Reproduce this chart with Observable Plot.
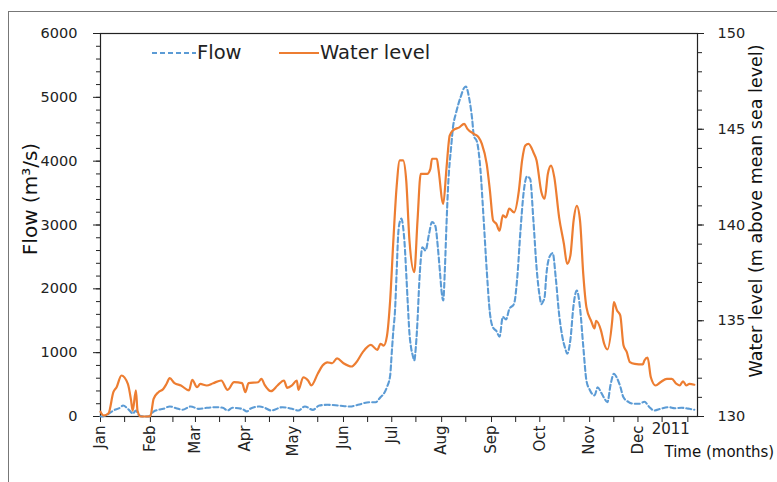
<!DOCTYPE html>
<html>
<head>
<meta charset="utf-8">
<script src="https://cdn.jsdelivr.net/npm/d3@7"></script>
<script src="https://cdn.jsdelivr.net/npm/@observablehq/plot@0.6"></script>
<style>
  body { margin: 0; background: #fff; font-family: "DejaVu Sans", sans-serif; }
  #chart { position: relative; width: 777px; height: 482px; overflow: hidden; }
  #outline { position: absolute; left: 8px; top: 11px; width: 820px; height: 520px;
             border: 1.5px solid #777; box-sizing: border-box; pointer-events: none; }
  .key { position: absolute; top: 41px; display: flex; align-items: center;
         font-size: 19.5px; color: #222; white-space: nowrap; }
  .key svg { display: block; margin-right: 1px; }
</style>
</head>
<body>
<div id="chart">
  <div id="outline"></div>
</div>
<script>
// Daily river flow (m³/s) and water level (m above MSL) through 2010
const flowDates = [
  "2010-01-01","2010-01-03","2010-01-06","2010-01-09","2010-01-13","2010-01-15","2010-01-18","2010-01-20",
  "2010-01-21","2010-01-23","2010-01-25","2010-01-28","2010-01-31","2010-02-03","2010-02-06","2010-02-09",
  "2010-02-13","2010-02-17","2010-02-21","2010-02-26","2010-03-03","2010-03-08","2010-03-14","2010-03-18",
  "2010-03-21","2010-03-24","2010-03-30","2010-04-02","2010-04-04","2010-04-10","2010-04-13","2010-04-17",
  "2010-04-24","2010-04-30","2010-05-04","2010-05-08","2010-05-13","2010-05-17","2010-05-22","2010-05-29",
  "2010-06-05","2010-06-10","2010-06-17","2010-06-21","2010-06-24","2010-06-26","2010-06-28","2010-06-30",
  "2010-07-01","2010-07-02","2010-07-03","2010-07-04","2010-07-05","2010-07-06","2010-07-07","2010-07-08",
  "2010-07-09","2010-07-10","2010-07-11","2010-07-12","2010-07-13","2010-07-14","2010-07-15","2010-07-16",
  "2010-07-17","2010-07-18","2010-07-19","2010-07-20","2010-07-22","2010-07-24","2010-07-26","2010-07-28",
  "2010-07-30","2010-07-31","2010-08-01","2010-08-02","2010-08-03","2010-08-04","2010-08-05","2010-08-07",
  "2010-08-08","2010-08-10","2010-08-13","2010-08-15","2010-08-16","2010-08-18","2010-08-20","2010-08-21",
  "2010-08-23","2010-08-25","2010-08-27","2010-08-29","2010-08-31","2010-09-02","2010-09-04","2010-09-06",
  "2010-09-08","2010-09-10","2010-09-12","2010-09-15","2010-09-17","2010-09-19","2010-09-21","2010-09-23",
  "2010-09-25","2010-09-27","2010-09-29","2010-10-01","2010-10-02","2010-10-03","2010-10-04","2010-10-05",
  "2010-10-07","2010-10-09","2010-10-11","2010-10-13","2010-10-15","2010-10-17","2010-10-18","2010-10-20",
  "2010-10-22","2010-10-24","2010-10-26","2010-10-28","2010-10-30","2010-11-01","2010-11-04","2010-11-06",
  "2010-11-08","2010-11-10","2010-11-12","2010-11-14","2010-11-16","2010-11-18","2010-11-20","2010-11-22",
  "2010-11-25","2010-11-28","2010-12-02","2010-12-05","2010-12-08","2010-12-11","2010-12-15","2010-12-20",
  "2010-12-24","2010-12-28","2011-01-02","2011-01-05"
];
const flowValues = [
  0, 5, 42, 94, 136, 172, 120, 68,
  42, 94, 16, 0, 0, 78, 105, 120,
  157, 130, 105, 157, 120, 136, 146, 136,
  94, 136, 120, 78, 120, 157, 136, 94,
  146, 120, 94, 157, 104, 172, 183, 172,
  157, 183, 224, 224, 302, 355, 460, 640,
  1000, 1350, 1650, 2240, 2850, 3050, 3100, 2980,
  2700, 2240, 1750, 1300, 1080, 960, 877, 1100,
  1500, 2050, 2450, 2650, 2600, 2836, 3045, 2990,
  2550, 2250, 1950, 1818, 2300, 3000, 3600, 4250,
  4520, 4760, 5020, 5150, 5170, 5000, 4650, 4400,
  4300, 3900, 3130, 2300, 1620, 1390, 1340, 1250,
  1560, 1520, 1680, 1766, 2180, 2915, 3520, 3760,
  3720, 3080, 2330, 1870, 1760, 1800, 1870, 2200,
  2500, 2560, 2150, 1600, 1250, 1050, 982, 1200,
  1750, 1974, 1700, 1100, 560, 420, 330, 459,
  380, 290, 224, 500, 669, 600, 470, 300,
  230, 200, 200, 230, 150, 94, 120, 146,
  130, 136, 120, 105
];

const levelDates = [
  "2010-01-01","2010-01-03","2010-01-06","2010-01-09","2010-01-11","2010-01-14","2010-01-18","2010-01-20",
  "2010-01-21","2010-01-23","2010-01-24","2010-01-26","2010-01-30","2010-02-01","2010-02-03","2010-02-06",
  "2010-02-09","2010-02-11","2010-02-13","2010-02-16","2010-02-20","2010-02-25","2010-02-27","2010-03-02",
  "2010-03-04","2010-03-08","2010-03-12","2010-03-17","2010-03-21","2010-03-25","2010-03-30","2010-04-01",
  "2010-04-03","2010-04-09","2010-04-11","2010-04-13","2010-04-17","2010-04-21","2010-04-25","2010-04-27",
  "2010-04-30","2010-05-03","2010-05-04","2010-05-07","2010-05-10","2010-05-12","2010-05-16","2010-05-19",
  "2010-05-22","2010-05-25","2010-05-28","2010-06-01","2010-06-06","2010-06-09","2010-06-13","2010-06-18",
  "2010-06-22","2010-06-24","2010-06-26","2010-06-28","2010-06-30","2010-07-02","2010-07-04","2010-07-06",
  "2010-07-08","2010-07-10","2010-07-12","2010-07-15","2010-07-17","2010-07-19","2010-07-23","2010-07-25",
  "2010-07-26","2010-07-29","2010-07-30","2010-08-02","2010-08-04","2010-08-06","2010-08-08","2010-08-12",
  "2010-08-15","2010-08-17","2010-08-21","2010-08-24","2010-08-26","2010-08-29","2010-08-31","2010-09-02",
  "2010-09-04","2010-09-06","2010-09-08","2010-09-10","2010-09-12","2010-09-15","2010-09-18","2010-09-20",
  "2010-09-22","2010-09-24","2010-09-27","2010-09-29","2010-10-02","2010-10-04","2010-10-06","2010-10-08",
  "2010-10-10","2010-10-13","2010-10-16","2010-10-18","2010-10-20","2010-10-22","2010-10-24","2010-10-26",
  "2010-10-28","2010-10-30","2010-11-02","2010-11-04","2010-11-05","2010-11-08","2010-11-10","2010-11-12",
  "2010-11-15","2010-11-16","2010-11-18","2010-11-20","2010-11-22","2010-11-24","2010-11-26","2010-11-29",
  "2010-12-04","2010-12-05","2010-12-07","2010-12-09","2010-12-12","2010-12-15","2010-12-19","2010-12-22",
  "2010-12-25","2010-12-27","2010-12-29","2010-12-31","2011-01-02","2011-01-05"
];
const levelValues = [
  130.25, 130.05, 130.17, 131.27, 131.53, 132.14, 131.70, 130.84,
  130.30, 131.36, 130.30, 130.00, 130.00, 130.02, 130.92, 131.27,
  131.44, 131.70, 132.00, 131.74, 131.62, 131.36, 131.92, 131.53,
  131.70, 131.62, 131.74, 131.88, 131.39, 131.79, 131.74, 131.27,
  131.74, 131.79, 131.97, 131.65, 131.32, 131.62, 131.88, 131.50,
  131.62, 131.88, 131.39, 132.05, 131.88, 131.62, 132.23, 132.66,
  132.83, 132.78, 133.04, 132.78, 132.61, 132.83, 133.36, 133.74,
  133.48, 133.80, 133.70, 134.20, 136.06, 139.20, 141.97, 143.37,
  143.37, 142.32, 139.19, 137.54, 140.23, 142.67, 142.67, 142.93,
  143.46, 143.46, 142.93, 141.10, 142.95, 144.67, 144.94, 145.10,
  145.28, 145.02, 144.76, 144.58, 144.24, 143.19, 141.80, 140.23,
  140.06, 139.70, 140.50, 140.40, 140.85, 140.66, 141.80, 143.37,
  144.15, 144.24, 143.80, 143.37, 141.71, 141.37, 142.67, 143.10,
  142.50, 140.40, 139.00, 137.97, 138.40, 140.23, 141.00, 140.23,
  137.45, 135.70, 134.97, 134.60, 135.00, 134.50, 133.80, 133.50,
  135.00, 135.97, 135.54, 135.28, 133.72, 133.37, 132.84, 132.75,
  132.72, 132.92, 133.07, 132.05, 131.62, 131.79, 131.97, 131.97,
  131.70, 131.62, 131.84, 131.62, 131.70, 131.66
];

// Axis ticks
const monthTicks = ["2010-01-01","2010-02-01","2010-03-01","2010-04-01","2010-05-01","2010-06-01",
                    "2010-07-01","2010-08-01","2010-09-01","2010-10-01","2010-11-01","2010-12-01"];
const midMonthTicks = ["2010-01-16","2010-02-15","2010-03-16","2010-04-16","2010-05-16","2010-06-16",
                       "2010-07-16","2010-08-16","2010-09-16","2010-10-16","2010-11-16","2010-12-16"];
const yearTick = { date: "2011-01-01", label: "2011" };
const flowTicks = [0, 1000, 2000, 3000, 4000, 5000, 6000];
const levelTicks = [130, 135, 140, 145, 150];
const timeDomain = ["2010-01-01", "2011-01-07"];

// Water level is drawn against the flow scale: 130–150 m spans 0–6000 m³/s
const flowMax = 6000, levelMin = 130, levelMax = 150;
const levelToFlow = v => (v - levelMin) * flowMax / (levelMax - levelMin);

const parse = s => new Date(s + "T00:00:00Z");
const flow = flowDates.map((d, i) => ({ date: parse(d), value: flowValues[i] }));
const level = levelDates.map((d, i) => ({ date: parse(d), value: levelValues[i] }));

const orange = "#ED7D31", blue = "#5B9BD5";

const chart = Plot.plot({
  width: 777,
  height: 482,
  marginLeft: 100,
  marginRight: 80,
  marginTop: 33,
  marginBottom: 66,
  style: { fontFamily: "DejaVu Sans, sans-serif", fontSize: "14.5px", color: "#222", background: "#fff" },
  x: { type: "utc", domain: timeDomain.map(parse) },
  y: { domain: [0, flowMax] },
  marks: [
    // x axis: month labels, mid-month minor ticks, year label
    Plot.axisX(monthTicks.map(parse), {
      tickFormat: d3.utcFormat("%b"), tickRotate: -90, tickSize: 6, tickPadding: 3, label: null, fontSize: 15
    }),
    Plot.axisX(midMonthTicks.map(parse), { tickFormat: () => "", tickSize: 6, label: null }),
    Plot.axisX([parse(yearTick.date)], { tickFormat: () => "", tickSize: 6, label: null }),
    Plot.text([yearTick], {
      x: d => parse(d.date), frameAnchor: "bottom", text: "label",
      textAnchor: "end", dx: 2, dy: 17, fontSize: 15
    }),
    // left axis: flow
    Plot.axisY(flowTicks, { tickSize: 7, tickPadding: 16, label: null, tickFormat: d3.format("d") }),
    Plot.axisY(d3.range(0, flowMax + 1, 200), { tickSize: 4, tickFormat: () => "", label: null }),
    // right axis: water level
    Plot.axisY(levelTicks.map(levelToFlow), {
      anchor: "right", tickSize: 6, tickPadding: 14, label: null,
      tickFormat: d => String(Math.round(levelMin + d * (levelMax - levelMin) / flowMax))
    }),
    Plot.axisY(d3.range(levelMin, levelMax + 1, 1).map(levelToFlow), {
      anchor: "right", tickSize: 4, tickFormat: () => "", label: null
    }),
    Plot.frame({ stroke: "#222", strokeWidth: 1.2 }),
    // series
    Plot.line(flow, {
      x: "date", y: "value", stroke: blue, strokeWidth: 2.1, strokeDasharray: "5,3", curve: "monotone-x"
    }),
    Plot.line(level, {
      x: "date", y: d => levelToFlow(d.value), stroke: orange, strokeWidth: 2.2, curve: "monotone-x"
    }),
    // axis titles
    Plot.text(["Flow (m³/s)"], {
      frameAnchor: "left", textAnchor: "middle", rotate: -90, dx: -70, dy: -26, fontSize: 20, fill: "#111"
    }),
    Plot.text(["Water level (m above mean sea level)"], {
      frameAnchor: "right", textAnchor: "middle", rotate: -90, dx: 59, dy: -14, fontSize: 17.5, fill: "#111"
    }),
    Plot.text(["Time (months)"], {
      frameAnchor: "bottom-right", textAnchor: "start", dx: -33, dy: 40, fontSize: 15, fill: "#111"
    })
  ]
});

const host = document.getElementById("chart");
host.insertBefore(chart, host.firstChild);

// Legend inside the plot area
const keys = [
  { label: "Flow", color: blue, dash: "5,3", left: 152, width: 44 },
  { label: "Water level", color: orange, dash: null, left: 279, width: 40 }
];
for (const k of keys) {
  const div = document.createElement("div");
  div.className = "key";
  div.style.left = k.left + "px";
  div.innerHTML =
    `<svg width="${k.width}" height="10"><line x1="0" x2="${k.width}" y1="5" y2="5" stroke="${k.color}"` +
    ` stroke-width="2.1"${k.dash ? ` stroke-dasharray="${k.dash}"` : ""}/></svg><span>${k.label}</span>`;
  host.appendChild(div);
}
</script>
</body>
</html>
